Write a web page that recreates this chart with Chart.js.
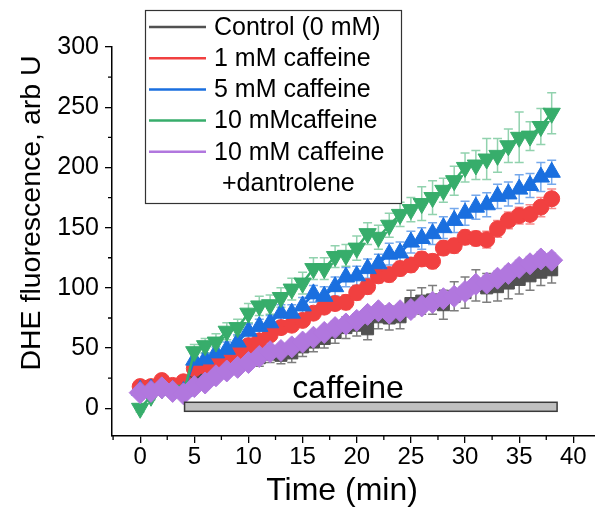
<!DOCTYPE html>
<html>
<head>
<meta charset="utf-8">
<script src="https://cdn.jsdelivr.net/npm/chart.js@4"></script>
<style>
  html, body { margin: 0; padding: 0; background: #fff; }
  #wrap { width: 595px; height: 514px; }
</style>
</head>
<body>
<div id="wrap"><canvas id="chart" width="595" height="514"></canvas></div>
<script>
const FONT = "'Liberation Sans', Arial, sans-serif"

// time points (min)
const times = [0,1,2,3,4,5,6,7,8,9,10,11,12,13,14,15,16,17,18,19,20,21,22,23,24,25,26,27,28,29,30,31,32,33,34,35,36,37,38]

const seriesLabels = ['Control (0 mM)', '1 mM caffeine', '5 mM caffeine', '10 mMcaffeine', '10 mM caffeine']

const control = [16,18,18,17,18,26,28,32,35,38,40,42,45,44,46,51,55,58,63,67,69,66,76,75,76,87,89,90,86,93,96,102,100,101,104,107,110,113,115]
const controlErr = [3,3,3,3,3,5,5,6,6,6,6,7,7,7,8,8,8,8,9,9,9,9,10,10,10,11,11,12,12,12,13,13,12,12,13,12,12,11,11]

const caf1 = [18,18,23,19,22,33,35,39,42,46,52,56,61,67,69,73,79,84,87,88,96,101,110,111,116,119,124,122,133,135,142,141,140,149,156,160,161,167,174]
const caf1Err = [3,3,3,3,3,4,4,4,4,4,5,5,5,5,5,5,5,5,5,6,6,6,6,6,6,6,6,6,6,6,6,6,7,7,7,7,8,8,8]

const caf5 = [15,16,15,15,14,40,41,46,49,55,64,68,71,79,79,85,95,93,101,109,110,116,120,128,129,138,141,145,150,156,162,167,169,176,178,182,185,192,196]
const caf5Err = [3,3,3,3,3,5,5,5,6,6,6,6,6,7,7,7,7,8,8,8,8,8,8,9,9,9,9,9,9,10,10,10,10,10,10,12,10,12,10]

const caf10 = [0,10,16,15,12,47,52,55,64,67,79,85,86,92,99,104,116,116,126,127,133,145,142,152,161,165,170,175,181,189,200,202,207,210,218,225,226,234,245]
const caf10Err = [3,3,3,3,3,6,6,7,7,7,8,8,8,8,9,9,9,9,9,9,10,9,10,10,10,10,14,14,10,12,12,12,17,14,14,21,12,15,17]

const caf10Dan = [13,14,17,14,12,18,21,27,31,34,38,43,47,48,51,55,59,63,67,70,73,78,81,79,81,82,85,88,91,93,97,103,104,108,112,117,120,124,123]
const caf10DanErr = [3,3,3,3,3,3,3,3,4,4,4,4,4,4,4,5,5,5,5,5,5,5,5,5,5,5,5,5,5,5,5,5,6,6,6,6,6,6,6]

const xMajorTicks = [0,5,10,15,20,25,30,35,40]
const yMajorTicks = [0,50,100,150,200,250,300]

// caffeine application bar
const caffeineStart = 4.1
const caffeineEnd = 38.5

const colors = ['#515151', '#F14040', '#1A6FDF', '#37AD6B', '#B177DE']
const errColors = ['rgba(81,81,81,0.75)', 'rgba(241,64,64,0.6)', 'rgba(26,111,223,0.6)', 'rgba(55,173,107,0.55)', 'rgba(177,119,222,0.6)']

function pts(values) {
  return values.map((v, i) => ({ x: times[i], y: v }))
}

function makeSet(i, values, errs, style, radius, rotation, order) {
  return {
    label: seriesLabels[i],
    data: pts(values),
    errors: errs,
    borderColor: colors[i],
    backgroundColor: colors[i],
    borderWidth: 2.5,
    pointStyle: style,
    pointRadius: radius,
    pointRotation: rotation,
    pointBorderWidth: 1,
    pointBackgroundColor: colors[i],
    pointBorderColor: colors[i],
    tension: 0,
    order: order,
    legendRadius: radius,
  }
}

const datasets = [
  makeSet(0, control, controlErr, 'rect', 8.5, 0, 5),
  makeSet(1, caf1, caf1Err, 'circle', 8, 0, 4),
  makeSet(2, caf5, caf5Err, 'triangle', 10, 0, 3),
  makeSet(3, caf10, caf10Err, 'triangle', 10, 180, 2),
  makeSet(4, caf10Dan, caf10DanErr, 'rectRot', 11, 0, 1),
]

const errorBars = {
  id: 'errorBars',
  beforeDatasetsDraw(chart) {
    const { ctx, scales: { x, y } } = chart
    ctx.save()
    ctx.lineWidth = 1.5
    chart.data.datasets.forEach((ds, di) => {
      ctx.strokeStyle = errColors[di]
      ds.data.forEach((p, i) => {
        const e = ds.errors[i]
        const px = x.getPixelForValue(p.x)
        const top = y.getPixelForValue(p.y + e)
        const bot = y.getPixelForValue(p.y - e)
        ctx.beginPath()
        ctx.moveTo(px, top); ctx.lineTo(px, bot)
        ctx.moveTo(px - 4.5, top); ctx.lineTo(px + 4.5, top)
        ctx.moveTo(px - 4.5, bot); ctx.lineTo(px + 4.5, bot)
        ctx.stroke()
      })
    })
    ctx.restore()
  }
}

function marker(ctx, style, x, y, r, rot, color) {
  ctx.fillStyle = color
  ctx.strokeStyle = color
  ctx.lineWidth = 1
  if (Chart.helpers && Chart.helpers.drawPoint) {
    Chart.helpers.drawPoint(ctx, { pointStyle: style, rotation: rot, borderWidth: 1 }, x, y, r)
    return
  }
  ctx.beginPath()
  ctx.arc(x, y, r, 0, Math.PI * 2)
  ctx.fill()
}

const decorations = {
  id: 'decorations',
  afterDraw(chart) {
    const { ctx, scales: { x, y }, chartArea } = chart
    ctx.save()

    // minor ticks
    ctx.strokeStyle = '#000'
    ctx.lineWidth = 1.3
    ctx.beginPath()
    for (let v = -2.5; v <= 42; v += 5) {
      const px = x.getPixelForValue(v)
      if (px < chartArea.left - 0.5 || px > chartArea.right) continue
      ctx.moveTo(px, chartArea.bottom); ctx.lineTo(px, chartArea.bottom + 4)
    }
    for (let v = -25; v <= 300; v += 50) {
      const py = y.getPixelForValue(v)
      if (py > chartArea.bottom + 0.5 || py < chartArea.top) continue
      ctx.moveTo(chartArea.left, py); ctx.lineTo(chartArea.left - 4, py)
    }
    ctx.stroke()

    // caffeine bar
    const bx0 = x.getPixelForValue(caffeineStart)
    const bx1 = x.getPixelForValue(caffeineEnd)
    const by0 = y.getPixelForValue(5)
    const by1 = y.getPixelForValue(-2.5)
    ctx.fillStyle = '#c0c0c0'
    ctx.strokeStyle = '#3a3a3a'
    ctx.lineWidth = 1.5
    ctx.fillRect(bx0, by0, bx1 - bx0, by1 - by0)
    ctx.strokeRect(bx0, by0, bx1 - bx0, by1 - by0)

    ctx.fillStyle = '#000'
    ctx.font = '32px ' + FONT
    ctx.textAlign = 'center'
    ctx.textBaseline = 'alphabetic'
    ctx.fillText('caffeine', x.getPixelForValue(19.2), y.getPixelForValue(8.3))

    // axis titles
    ctx.font = '32px ' + FONT
    ctx.fillText('Time (min)', 342, 500)
    ctx.save()
    ctx.translate(40, 213)
    ctx.rotate(-Math.PI / 2)
    ctx.font = '28.5px ' + FONT
    ctx.fillText('DHE fluorescence, arb U', 0, 0)
    ctx.restore()

    // legend
    ctx.fillStyle = '#fff'
    ctx.fillRect(145, 10, 256, 193)
    ctx.strokeStyle = '#333'
    ctx.lineWidth = 1.2
    ctx.strokeRect(145.5, 10.5, 256, 193)
    ctx.font = '25px ' + FONT
    ctx.textAlign = 'left'
    ctx.textBaseline = 'middle'
    chart.data.datasets.forEach((ds, i) => {
      const cy = 27 + i * 31.2
      ctx.strokeStyle = ds.borderColor
      ctx.lineWidth = 2.5
      ctx.beginPath()
      ctx.moveTo(149, cy); ctx.lineTo(206, cy)
      ctx.stroke()
      marker(ctx, ds.pointStyle, 177, cy, ds.legendRadius, ds.pointRotation, ds.borderColor)
      ctx.fillStyle = '#000'
      ctx.fillText(ds.label, 214, cy + 1)
    })
    ctx.fillText('+dantrolene', 222, 27 + 5 * 31.2 + 1)

    ctx.restore()
  }
}

new Chart(document.getElementById('chart').getContext('2d'), {
  type: 'line',
  data: { datasets },
  options: {
    responsive: false,
    animation: false,
    devicePixelRatio: 1,
    layout: { autoPadding: false, padding: { top: 47, right: 0, left: 0, bottom: 0 } },
    plugins: { legend: { display: false }, tooltip: { enabled: false } },
    scales: {
      x: {
        type: 'linear',
        min: -2.6,
        max: 42,
        afterBuildTicks: s => { s.ticks = xMajorTicks.map(v => ({ value: v })) },
        afterFit: s => { s.height = 78; s.paddingLeft = 0; s.paddingRight = 0 },
        border: { display: true, color: '#000', width: 1.5 },
        grid: { drawOnChartArea: false, drawTicks: true, tickLength: 7, color: '#000', lineWidth: 1.3 },
        ticks: { color: '#000', font: { family: FONT, size: 24 }, padding: 0, maxRotation: 0, autoSkip: false },
      },
      y: {
        type: 'linear',
        min: -23,
        max: 300,
        afterBuildTicks: s => { s.ticks = yMajorTicks.map(v => ({ value: v })) },
        afterFit: s => { s.width = 112; s.paddingTop = 0; s.paddingBottom = 0 },
        border: { display: true, color: '#000', width: 1.5 },
        grid: { drawOnChartArea: false, drawTicks: true, tickLength: 7, color: '#000', lineWidth: 1.3 },
        ticks: { color: '#000', font: { family: FONT, size: 25 }, padding: 6 },
      },
    },
  },
  plugins: [errorBars, decorations],
})
</script>
</body>
</html>
